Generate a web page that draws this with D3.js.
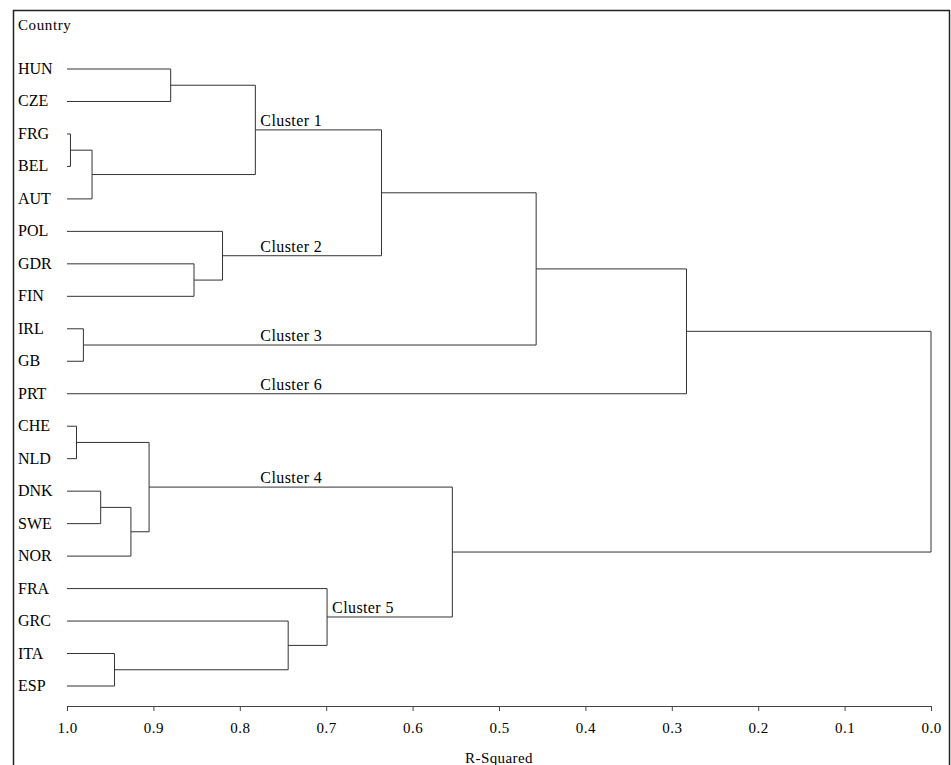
<!DOCTYPE html>
<html>
<head>
<meta charset="utf-8">
<script src="https://cdnjs.cloudflare.com/ajax/libs/d3/7.8.5/d3.min.js"></script>
<style>
  body { margin: 0; background: white; }
  svg { display: block; }
  .link { fill: none; stroke: #333; stroke-width: 1; }
  text { font-family: "Liberation Serif", "Times New Roman", serif; fill: #000; }
</style>
</head>
<body>
<svg id="chart"></svg>
<script>
// countries, top to bottom
var leaves = ["HUN", "CZE", "FRG", "BEL", "AUT", "POL", "GDR", "FIN", "IRL", "GB",
  "PRT", "CHE", "NLD", "DNK", "SWE", "NOR", "FRA", "GRC", "ITA", "ESP"];

// merges: [left, right, R-squared at join, id]
var merges = [
  ["HUN", "CZE", 0.880, "m1"],
  ["FRG", "BEL", 0.996, "m2"],
  ["m2", "AUT", 0.971, "m3"],
  ["m1", "m3", 0.782, "C1"],
  ["GDR", "FIN", 0.853, "m4"],
  ["POL", "m4", 0.820, "C2"],
  ["C1", "C2", 0.636, "m5"],
  ["IRL", "GB", 0.981, "C3"],
  ["m5", "C3", 0.457, "m6"],
  ["m6", "PRT", 0.283, "m7"],
  ["CHE", "NLD", 0.989, "m8"],
  ["DNK", "SWE", 0.961, "m9"],
  ["m9", "NOR", 0.926, "m10"],
  ["m8", "m10", 0.905, "C4"],
  ["ITA", "ESP", 0.945, "m11"],
  ["GRC", "m11", 0.744, "m12"],
  ["FRA", "m12", 0.699, "C5"],
  ["C4", "C5", 0.554, "m13"],
  ["m7", "m13", 0.000, "root"]
];

// cluster names and the node whose branch they sit on
var clusterNames = ["Cluster 1", "Cluster 2", "Cluster 3", "Cluster 6", "Cluster 4", "Cluster 5"];
var clusterNodes = ["C1", "C2", "C3", "PRT", "C4", "C5"];

var xTicks = [1.0, 0.9, 0.8, 0.7, 0.6, 0.5, 0.4, 0.3, 0.2, 0.1, 0.0];

var width = 951, height = 765;

var svg = d3.select("#chart")
  .attr("width", width)
  .attr("height", height);

var x = d3.scaleLinear().domain([1, 0]).range([67, 931]);
var y = d3.scalePoint().domain(leaves).range([69, 686]);

// node positions
var nodes = {};
leaves.forEach(function(d) {
  nodes[d] = { h: 1, y: y(d) };
});
merges.forEach(function(m) {
  var a = nodes[m[0]], b = nodes[m[1]];
  nodes[m[3]] = { h: m[2], y: (a.y + b.y) / 2 };
});

// outer frame
svg.append("rect")
  .attr("x", 13.5)
  .attr("y", 10.5)
  .attr("width", 936)
  .attr("height", 800)
  .attr("fill", "none")
  .attr("stroke", "#222")
  .attr("stroke-width", 1.5);

svg.append("text")
  .attr("x", 18)
  .attr("y", 30)
  .style("font-size", "15px")
  .style("letter-spacing", "0.6px")
  .text("Country");

// elbow links: each merge draws its vertical bar plus the two horizontal arms
var g = svg.append("g");
merges.forEach(function(m) {
  var a = nodes[m[0]], b = nodes[m[1]], xm = x(m[2]);
  var path = "M" + x(a.h) + "," + a.y + "H" + xm + "V" + b.y + "H" + x(b.h);
  g.append("path")
    .attr("class", "link")
    .attr("d", path);
});

// leaf labels
svg.append("g").selectAll("text")
  .data(leaves)
  .join("text")
  .attr("x", 18)
  .attr("y", function(d) { return y(d) + 5; })
  .style("font-size", "16px")
  .text(function(d) { return d; });

// cluster labels
var labelMin = x(nodes["C1"].h);
svg.append("g").selectAll("text")
  .data(clusterNames)
  .join("text")
  .attr("x", function(d, i) { return Math.max(x(nodes[clusterNodes[i]].h), labelMin) + 5; })
  .attr("y", function(d, i) { return nodes[clusterNodes[i]].y - 4; })
  .style("font-size", "16px")
  .style("letter-spacing", "0.4px")
  .text(function(d) { return d; });

// axis
var axis = d3.axisBottom(x)
  .tickValues(xTicks)
  .tickFormat(d3.format(".1f"))
  .tickSizeInner(5)
  .tickSizeOuter(0)
  .tickPadding(11);

var ax = svg.append("g")
  .attr("transform", "translate(0,706)")
  .call(axis);
ax.select(".domain").attr("stroke", "#444");
ax.selectAll(".tick line").attr("stroke", "#444");
ax.selectAll(".tick text")
  .style("font-family", "'Liberation Serif', serif")
  .style("font-size", "15px")
  .style("letter-spacing", "0.5px")
  .attr("fill", "#000");

svg.append("text")
  .attr("x", x(0.5))
  .attr("y", 763)
  .attr("text-anchor", "middle")
  .style("font-size", "15px")
  .style("letter-spacing", "0.4px")
  .text("R-Squared");
</script>
</body>
</html>
